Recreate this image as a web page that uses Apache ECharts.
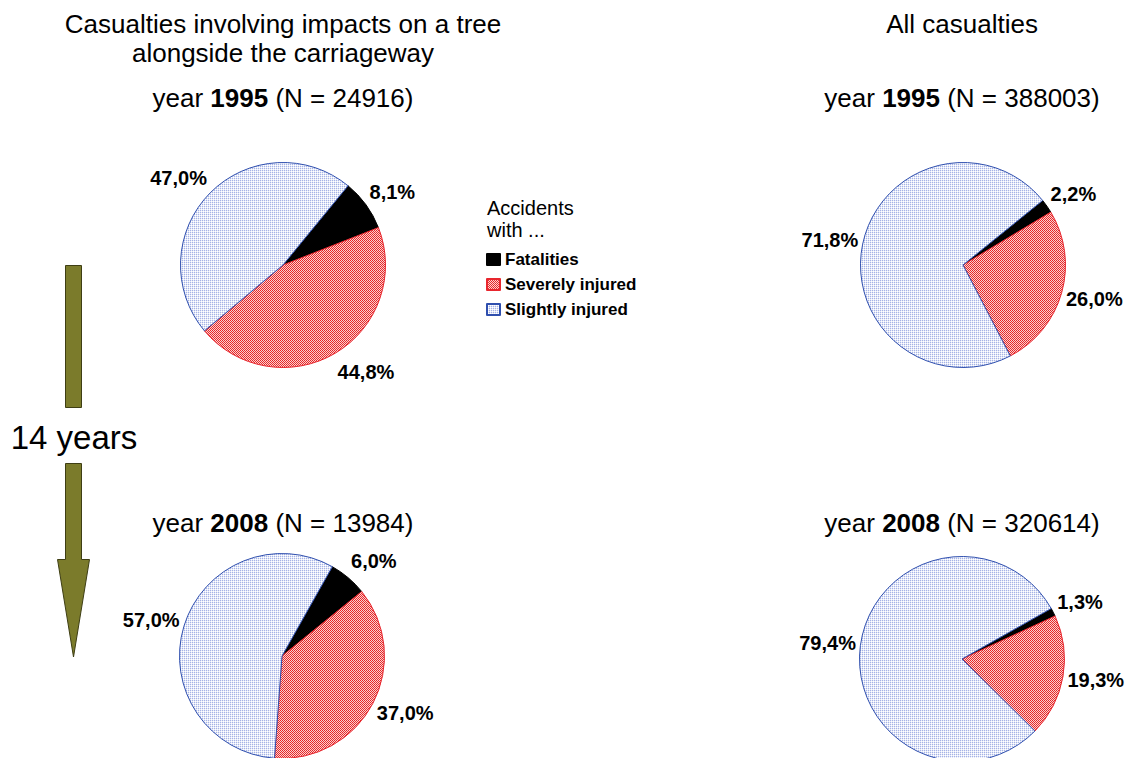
<!DOCTYPE html>
<html><head><meta charset="utf-8">
<script src="https://cdn.jsdelivr.net/npm/echarts@6/dist/echarts.min.js"></script>
<style>html,body{margin:0;padding:0;background:#fff}#c{width:1128px;height:758px}</style>
</head><body><div id="c"></div>
<script>
// ---- data ----
const categories = ['Fatalities', 'Severely injured', 'Slightly injured'];
const years = [1995, 2008];
const treeN = [24916, 13984];
const allN = [388003, 320614];
const tree1995 = [8.1, 44.8, 47.0];
const tree2008 = [6.0, 37.0, 57.0];
const all1995 = [2.2, 26.0, 71.8];
const all2008 = [1.3, 19.3, 79.4];
const leftTitle = ['Casualties involving impacts on a tree', 'alongside the carriageway'];
const rightTitle = 'All casualties';
const legendTitle = 'Accidents\nwith ...';
const gapLabel = '14 years';

// ---- styles ----
const FONT = "'Liberation Sans', Arial, Helvetica, sans-serif";
function makeTile(size, cells) {
  const c = document.createElement('canvas');
  c.width = c.height = size;
  const g = c.getContext('2d');
  g.fillStyle = '#ffffff'; g.fillRect(0, 0, size, size);
  cells.forEach(([x, y, col]) => { g.fillStyle = col; g.fillRect(x, y, 1, 1); });
  return c;
}
const redTile = makeTile(2, [[0,0,'#e62424'],[1,1,'#e83030'],[1,0,'#fbd0d0'],[0,1,'#fbd0d0']]);
const blueTile = makeTile(2, [[0,0,'#a6b3e6'],[1,0,'#e6eaf8'],[0,1,'#e6eaf8']]);
const sliceStyles = [
  { color: '#000000', borderColor: '#000000', borderWidth: 1 },
  { color: { image: redTile, repeat: 'repeat' }, borderColor: '#e8262e', borderWidth: 1 },
  { color: { image: blueTile, repeat: 'repeat' }, borderColor: '#2f4fae', borderWidth: 1 }
];
const fmt = p => p.value.toFixed(1).replace('.', ',') + '%';
const RADIUS = 102.5;

function pieSeries(values, center, startAngle) {
  return {
    type: 'pie', left: 0, top: 0, width: 1400, height: 900,
    center: center, radius: RADIUS, startAngle: startAngle, clockwise: true,
    avoidLabelOverlap: false, animation: false, silent: true,
    data: categories.map((name, i) => ({ name: name, value: values[i], itemStyle: sliceStyles[i] })),
    label: { show: true, position: 'outside', formatter: fmt, fontFamily: FONT, fontWeight: 'bold',
      fontSize: 20, color: '#000', overflow: 'none', bleedMargin: 0, distanceToLabelLine: 0 },
    labelLine: { show: false, length: 4.5, length2: 0 },
    // push the label box a little further off the rim, vertically, in the direction of its slice
    labelLayout: function (p) {
      const r = p.labelRect;
      const right = r.x + r.width / 2 > center[0];
      const px = right ? r.x : r.x + r.width;
      const py = r.y + r.height / 2;
      const ux = px - center[0], uy = py - center[1];
      const len = Math.sqrt(ux * ux + uy * uy) || 1;
      return { dy: 0.85 * r.height * uy / len };
    },
    emphasis: { disabled: true }
  };
}

function yearText(x, y, year, n) {
  return {
    type: 'text', x: x, y: y, silent: true,
    style: {
      text: '{n|year }{b|' + year + '}{n| (N = ' + n + ')}',
      align: 'center', verticalAlign: 'middle',
      rich: {
        n: { fontFamily: FONT, fontSize: 26, fill: '#000' },
        b: { fontFamily: FONT, fontSize: 26, fontWeight: 'bold', fill: '#000' }
      }
    }
  };
}
function plainText(x, y, text, size, align) {
  return { type: 'text', x: x, y: y, silent: true,
    style: { text: text, fontFamily: FONT, fontSize: size, fill: '#000', align: align || 'center', verticalAlign: 'middle' } };
}

const arrowFill = '#7b7b2b', arrowStroke = '#3e3e14';
const option = {
  backgroundColor: '#ffffff',
  animation: false,
  legend: {
    orient: 'vertical', left: 481, top: 246, itemWidth: 13, itemHeight: 11, itemGap: 8,
    icon: 'rect', selectedMode: false, data: categories,
    textStyle: { fontFamily: FONT, fontWeight: 'bold', fontSize: 17, color: '#000' }
  },
  series: [
    pieSeries(tree1995, [283, 265], 50.6),
    pieSeries(all1995, [963, 265], 39),
    pieSeries(tree2008, [282, 656], 60.6),
    pieSeries(all2008, [962, 659], 29.5)
  ],
  graphic: [
    plainText(283, 24, leftTitle[0], 26),
    plainText(283, 53, leftTitle[1], 26),
    plainText(962, 24, rightTitle, 26),
    yearText(283, 98, years[0], treeN[0]),
    yearText(962, 98, years[0], allN[0]),
    yearText(283, 523, years[1], treeN[1]),
    yearText(962, 523, years[1], allN[1]),
    { type: 'text', x: 487, y: 219, silent: true,
      style: { text: legendTitle, fontFamily: FONT, fontSize: 20, fill: '#000', align: 'left', verticalAlign: 'middle', lineHeight: 22 } },
    plainText(74, 437, gapLabel, 33),
    { type: 'rect', silent: true, shape: { x: 65.5, y: 265.5, width: 16, height: 142 },
      style: { fill: arrowFill, stroke: arrowStroke, lineWidth: 1 } },
    { type: 'polygon', silent: true,
      shape: { points: [[65.5, 463.5], [81.5, 463.5], [81.5, 559.5], [89.5, 559.5], [73.5, 657], [57.5, 559.5], [65.5, 559.5]] },
      style: { fill: arrowFill, stroke: arrowStroke, lineWidth: 1 } }
  ]
};
const chart = echarts.init(document.getElementById('c'), null, { renderer: 'svg' });
chart.setOption(option);
</script>
</body></html>
